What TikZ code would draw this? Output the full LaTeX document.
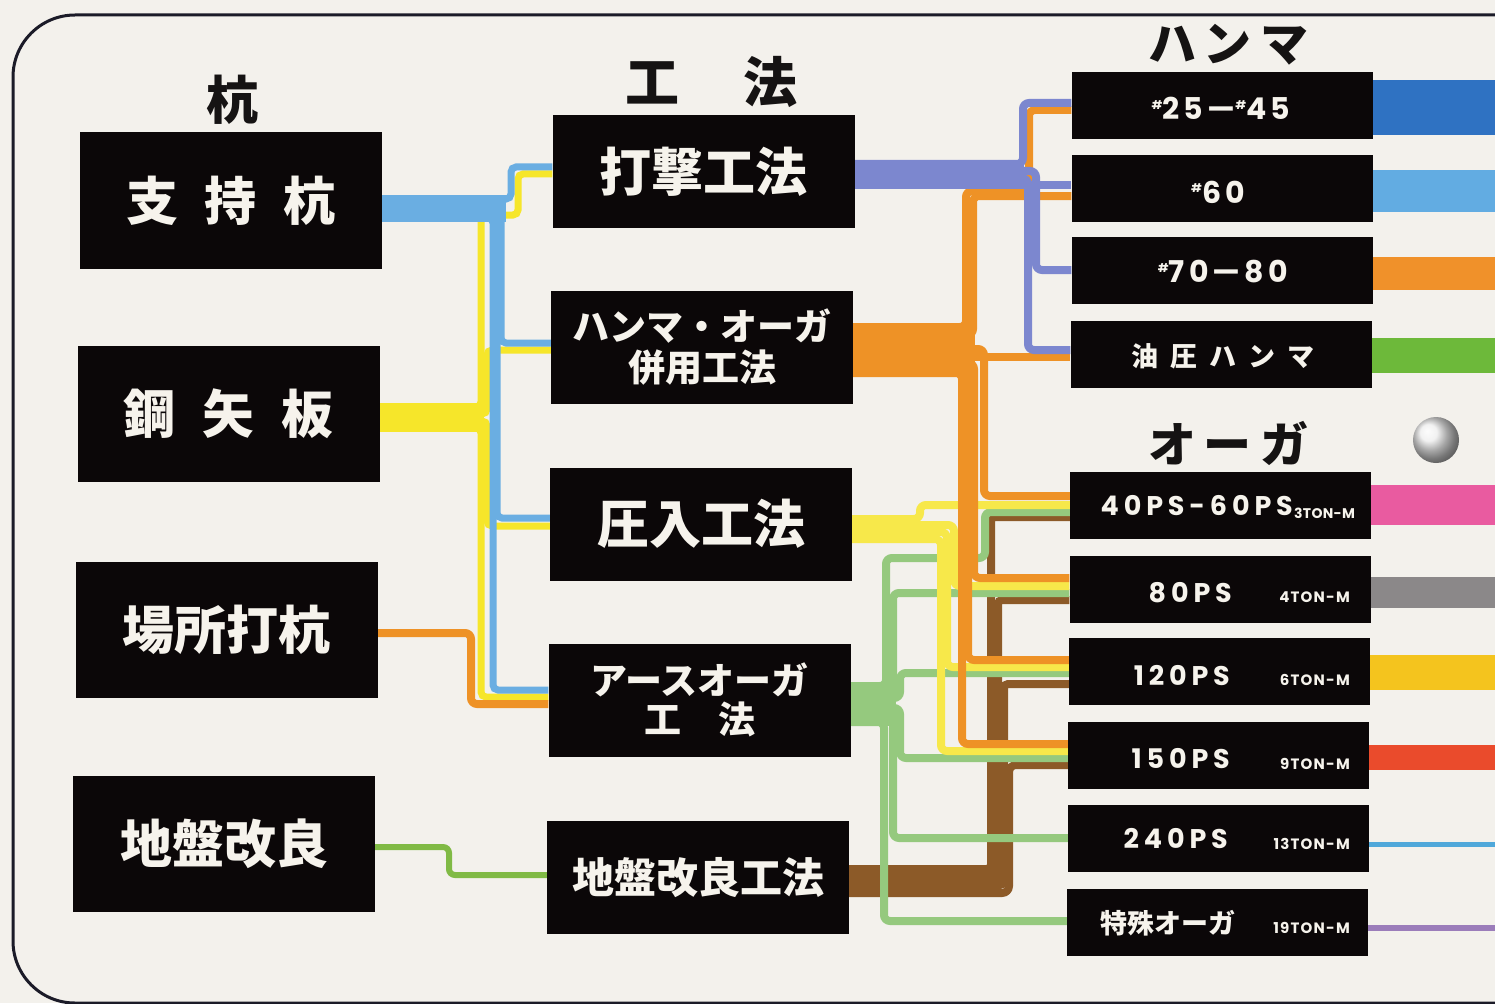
\documentclass[tikz,border=0pt]{standalone}
\usepackage{fontspec}
\usetikzlibrary{calc}
\newfontfamily\jp{Noto Sans CJK JP}
\newfontfamily\pop{Poppins}
\definecolor{bgc}{HTML}{F3F1EC}
\definecolor{boxk}{HTML}{0B0708}
\definecolor{framec}{HTML}{1B1B28}
\definecolor{txtw}{HTML}{F6F3EC}
\definecolor{headc}{HTML}{151313}
\definecolor{cblue}{HTML}{6AAEE2}
\definecolor{cyel}{HTML}{F6E62A}
\definecolor{cyelb}{HTML}{F7E84A}
\definecolor{corg}{HTML}{EE9226}
\definecolor{cpur}{HTML}{7C87CF}
\definecolor{cgrn}{HTML}{95C97E}
\definecolor{cgrnl}{HTML}{80BA45}
\definecolor{cbrn}{HTML}{8C5A28}
\definecolor{barA}{HTML}{2F72C2}
\definecolor{barB}{HTML}{62ACE2}
\definecolor{barC}{HTML}{F0912A}
\definecolor{barD}{HTML}{6DB93A}
\definecolor{barE}{HTML}{E95BA0}
\definecolor{barF}{HTML}{8B8889}
\definecolor{barG}{HTML}{F4C41E}
\definecolor{barH}{HTML}{EA4B2C}
\definecolor{barI}{HTML}{4FA8DA}
\definecolor{barJ}{HTML}{9B7DBA}
\pgfdeclarelayer{back}
\pgfdeclarelayer{pipes}
\pgfsetlayers{back,pipes,main}
\newcommand\shp{\raisebox{10pt}{\fontsize{12}{12}\selectfont\#}}
\tikzset{
  lbox/.style={fill=boxk, minimum width=302pt, minimum height=136pt, inner sep=0pt, text=txtw, font=\jp\bfseries\fontsize{52}{60}\selectfont},
  mbox/.style={fill=boxk, minimum width=302pt, minimum height=113pt, inner sep=0pt, text=txtw, align=center},
  rbox/.style={fill=boxk, minimum width=301pt, minimum height=67pt, inner sep=0pt},
  hd/.style={text=headc, inner sep=0pt, font=\jp\bfseries\fontsize{52}{60}\selectfont},
  pipe/.style={line width=8pt, rounded corners=6pt},
  bpipe/.style={line width=8pt, rounded corners=4pt},
  lpipe/.style={line width=7pt, rounded corners=5pt},
  rtxt/.style={text=txtw, inner sep=0pt, anchor=base east, font=\pop\bfseries\fontsize{27}{27}\selectfont\addfontfeature{LetterSpace=18}},
  rbig/.style={text=txtw, inner sep=0pt, anchor=base, font=\pop\bfseries\fontsize{30}{30}\selectfont\addfontfeature{LetterSpace=14}},
  rsml/.style={text=txtw, inner sep=0pt, anchor=base east, font=\pop\bfseries\fontsize{15}{15}\selectfont\addfontfeature{LetterSpace=8}},
  rsmt/.style={text=txtw, inner sep=0pt, anchor=base west, font=\pop\bfseries\fontsize{14}{14}\selectfont\addfontfeature{LetterSpace=2}},
  rjp/.style={text=txtw, inner sep=0pt, font=\jp\bfseries\fontsize{27}{30}\selectfont},
}
\begin{document}
\begin{tikzpicture}[x=1pt,y=-1pt]
\begin{pgfonlayer}{back}
\fill[bgc] (0,0) rectangle (1495,1003);
\end{pgfonlayer}
\useasboundingbox (0,0) rectangle (1495,1003);
\draw[framec, line width=3pt, rounded corners=62pt] (1510,15) -- (13,15) -- (13,1003) -- (1510,1003);

% headers
\node[hd] (hk) at (232,100) {杭};
\node[hd, font=\jp\bfseries\fontsize{54}{60}\selectfont] (hm) at (711,82) {工\hspace{64pt}法};
\node[hd, font=\jp\bfseries\fontsize{48}{56}\selectfont] (hh) at (1228,45) {ハ\hspace{8pt}ン\hspace{8pt}マ};
\node[hd, font=\jp\bfseries\fontsize{48}{56}\selectfont] (ha) at (1228,443) {オ\hspace{8pt}ー\hspace{8pt}ガ};

% left boxes
\node[lbox] (L1) at (231,200.5) {支\hspace{27pt}持\hspace{27pt}杭};
\node[lbox] (L2) at (228.5,414) {鋼\hspace{27pt}矢\hspace{27pt}板};
\node[lbox] (L3) at (226.5,629.5) {場所打杭};
\node[lbox] (L4) at (224,844) {地盤改良};

% middle boxes
\node[mbox, font=\jp\bfseries\fontsize{52}{60}\selectfont] (M1) at (703.5,171.5) {打撃工法};
\node[mbox, font=\jp\bfseries\fontsize{37}{41}\selectfont] (M2) at (702,347.5) {ハンマ・オーガ\\併用工法};
\node[mbox, font=\jp\bfseries\fontsize{52}{60}\selectfont] (M3) at (701,524) {圧入工法};
\node[mbox, font=\jp\bfseries\fontsize{37}{39}\selectfont] (M4) at (699.5,700) {アースオーガ\\工\hspace{37pt}法};
\node[mbox, font=\jp\bfseries\fontsize{42}{50}\selectfont] (M5) at (698,877.5) {地盤改良工法};

% right boxes
\node[rbox] (H1) at (1222,105.5) {};
\node[rbox] (H2) at (1222,188.5) {};
\node[rbox] (H3) at (1222,270.5) {};
\node[rbox] (H4) at (1221,354) {};
\node[rbox] (A1) at (1220.5,505.5) {};
\node[rbox] (A2) at (1220,589) {};
\node[rbox] (A3) at (1219.5,671.5) {};
\node[rbox] (A4) at (1218.5,755) {};
\node[rbox] (A5) at (1218.5,838.5) {};
\node[rbox] (A6) at (1217.5,922) {};

% right box texts
\node[rbig] (t1) at (1221,120) {\shp25—\shp45};
\node[rbig] (t2) at (1218,203) {\shp60};
\node[rbig] (t3) at (1223,282) {\shp70—80};
\node[rjp] (t4) at (1223,356) {油\hspace{12pt}圧\hspace{12pt}ハ\hspace{12pt}ン\hspace{12pt}マ};
\node[rtxt] (t5) at (1293,515) {40PS-60PS};
\node[rsmt] (s5) at (1294,518) {3TON-M};
\node[rtxt] (t6) at (1232,602) {80PS};
\node[rsml] (s6) at (1350,602) {4TON-M};
\node[rtxt] (t7) at (1230,685) {120PS};
\node[rsml] (s7) at (1350,685) {6TON-M};
\node[rtxt] (t8) at (1230,768) {150PS};
\node[rsml] (s8) at (1350,769) {9TON-M};
\node[rtxt] (t9) at (1228,848) {240PS};
\node[rsml] (s9) at (1350,849) {13TON-M};
\node[rjp, anchor=east] (t10) at (1236,923) {特殊オーガ};
\node[rsml] (s10) at (1350,933) {19TON-M};

% right colour bars
\fill[barA] (H1.east |- 0,80) rectangle (1495,135);
\fill[barB] (H2.east |- 0,170) rectangle (1495,212);
\fill[barC] (H3.east |- 0,257) rectangle (1495,290);
\fill[barD] (H4.east |- 0,338) rectangle (1495,373);
\fill[barE] (A1.east |- 0,485) rectangle (1495,525);
\fill[barF] (A2.east |- 0,577) rectangle (1495,608);
\fill[barG] (A3.east |- 0,655) rectangle (1495,690);
\fill[barH] (A4.east |- 0,745) rectangle (1495,770);
\fill[barI] (A5.east |- 0,842) rectangle (1495,847);
\fill[barJ] (A6.east |- 0,925) rectangle (1495,931);

% sphere
\shade[ball color=gray!14] (1436,440) circle (23pt);

\begin{pgfonlayer}{pipes}
% ---- left side ----
% yellow from 鋼矢板
\draw[cyel, line width=29pt] (L2.east |- 0,417.5) -- (484,417.5);
\draw[lpipe, cyel] (L2.east |- 0,407) -- (481,407) -- (481,215) -- (518,215) -- (518,174) -- (M1.west |- 0,174);
\draw[lpipe, cyel] (L2.east |- 0,414) -- (487,414) -- (487,350) -- (M2.west |- 0,350);
\draw[lpipe, cyel] (L2.east |- 0,421) -- (487,421) -- (487,526) -- (M3.west |- 0,526);
\draw[lpipe, cyel] (L2.east |- 0,428) -- (481,428) -- (481,697) -- (M4.west |- 0,697);
% blue from 支持杭
\draw[cblue, line width=27pt] (L1.east |- 0,208.5) -- (506,208.5);
\draw[lpipe, cblue] (L1.east |- 0,199) -- (511,199) -- (511,167) -- (M1.west |- 0,167);
\draw[lpipe, cblue] (L1.east |- 0,205) -- (501,205) -- (501,343) -- (M2.west |- 0,343);
\draw[lpipe, cblue] (L1.east |- 0,212) -- (497,212) -- (497,518) -- (M3.west |- 0,518);
\draw[lpipe, cblue] (L1.east |- 0,218) -- (493,218) -- (493,690) -- (M4.west |- 0,690);
% orange from 場所打杭
\draw[pipe, corg] (L3.east |- 0,633) -- (471,633) -- (471,704) -- (M4.west |- 0,704);
% green from 地盤改良
\draw[cgrnl, line width=6pt, rounded corners=6pt] (L4.east |- 0,847) -- (449,847) -- (449,875) -- (M5.west |- 0,875);

% ---- right side ----
% brown from 地盤改良工法
\draw[cbrn, line width=32pt] (M5.east |- 0,881) -- (1000,881);
\fill[cbrn] (987,770) rectangle (1001,880);
\draw[bpipe, cbrn] (M5.east |- 0,869) -- (991,869) -- (991,517) -- (A1.west |- 0,517);
\draw[bpipe, cbrn] (M5.east |- 0,877) -- (998,877) -- (998,600) -- (A2.west |- 0,600);
\draw[bpipe, cbrn] (M5.east |- 0,885) -- (1004,885) -- (1004,684) -- (A3.west |- 0,684);
\draw[bpipe, cbrn, rounded corners=7pt] (M5.east |- 0,893) -- (1009,893) -- (1009,765) -- (A4.west |- 0,765);
% green from アースオーガ工法
\draw[cgrn, line width=44pt] (M4.east |- 0,704) -- (896,704);
\draw[pipe, cgrn] (M4.east |- 0,686) -- (886,686) -- (886,558) -- (985,558) -- (985,512) -- (A1.west |- 0,512);
\draw[pipe, cgrn] (M4.east |- 0,692) -- (893,692) -- (893,593) -- (A2.west |- 0,593);
\draw[pipe, cgrn] (M4.east |- 0,698) -- (900,698) -- (900,673) -- (A3.west |- 0,673);
\draw[pipe, cgrn] (M4.east |- 0,708) -- (900,708) -- (900,758) -- (A4.west |- 0,758);
\draw[pipe, cgrn] (M4.east |- 0,715) -- (893,715) -- (893,838) -- (A5.west |- 0,838);
\draw[pipe, cgrn] (M4.east |- 0,722) -- (884,722) -- (884,921) -- (A6.west |- 0,921);
% yellow from 圧入工法
\draw[pipe, cyelb] (M3.east |- 0,519) -- (920,519) -- (920,505) -- (A1.west |- 0,505);
\draw[pipe, cyelb] (M3.east |- 0,525) -- (954,525) -- (954,586) -- (A2.west |- 0,586);
\draw[pipe, cyelb] (M3.east |- 0,532) -- (947,532) -- (947,667) -- (A3.west |- 0,667);
\draw[pipe, cyelb] (M3.east |- 0,539) -- (941,539) -- (941,751) -- (A4.west |- 0,751);
% orange from ハンマ・オーガ併用工法
\draw[corg, line width=54pt] (M2.east |- 0,350) -- (975,350);
\draw[pipe, corg] (M2.east |- 0,327) -- (966,327) -- (966,191) -- (1029,191) -- (1029,110) -- (H1.west |- 0,110);
\draw[pipe, corg] (M2.east |- 0,335) -- (973,335) -- (973,196) -- (H2.west |- 0,196);
\draw[pipe, corg] (M2.east |- 0,357) -- (H4.west |- 0,357);
\draw[pipe, corg] (M2.east |- 0,349) -- (984,349) -- (984,496) -- (A1.west |- 0,496);
\draw[pipe, corg] (M2.east |- 0,363) -- (974,363) -- (974,578) -- (A2.west |- 0,578);
\draw[pipe, corg] (M2.east |- 0,368) -- (968,368) -- (968,660) -- (A3.west |- 0,660);
\draw[pipe, corg] (M2.east |- 0,373) -- (962,373) -- (962,744) -- (A4.west |- 0,744);
% purple from 打撃工法
\draw[cpur, line width=28pt] (M1.east |- 0,174) -- (1024,174);
\draw[pipe, cpur] (M1.east |- 0,164) -- (1023,164) -- (1023,103) -- (H1.west |- 0,103);
\draw[pipe, cpur] (M1.east |- 0,185) -- (H2.west |- 0,185);
\draw[pipe, cpur] (M1.east |- 0,171) -- (1036,171) -- (1036,270) -- (H3.west |- 0,270);
\draw[pipe, cpur] (M1.east |- 0,178) -- (1028,178) -- (1028,350) -- (H4.west |- 0,350);
\end{pgfonlayer}
\end{tikzpicture}
\end{document}
